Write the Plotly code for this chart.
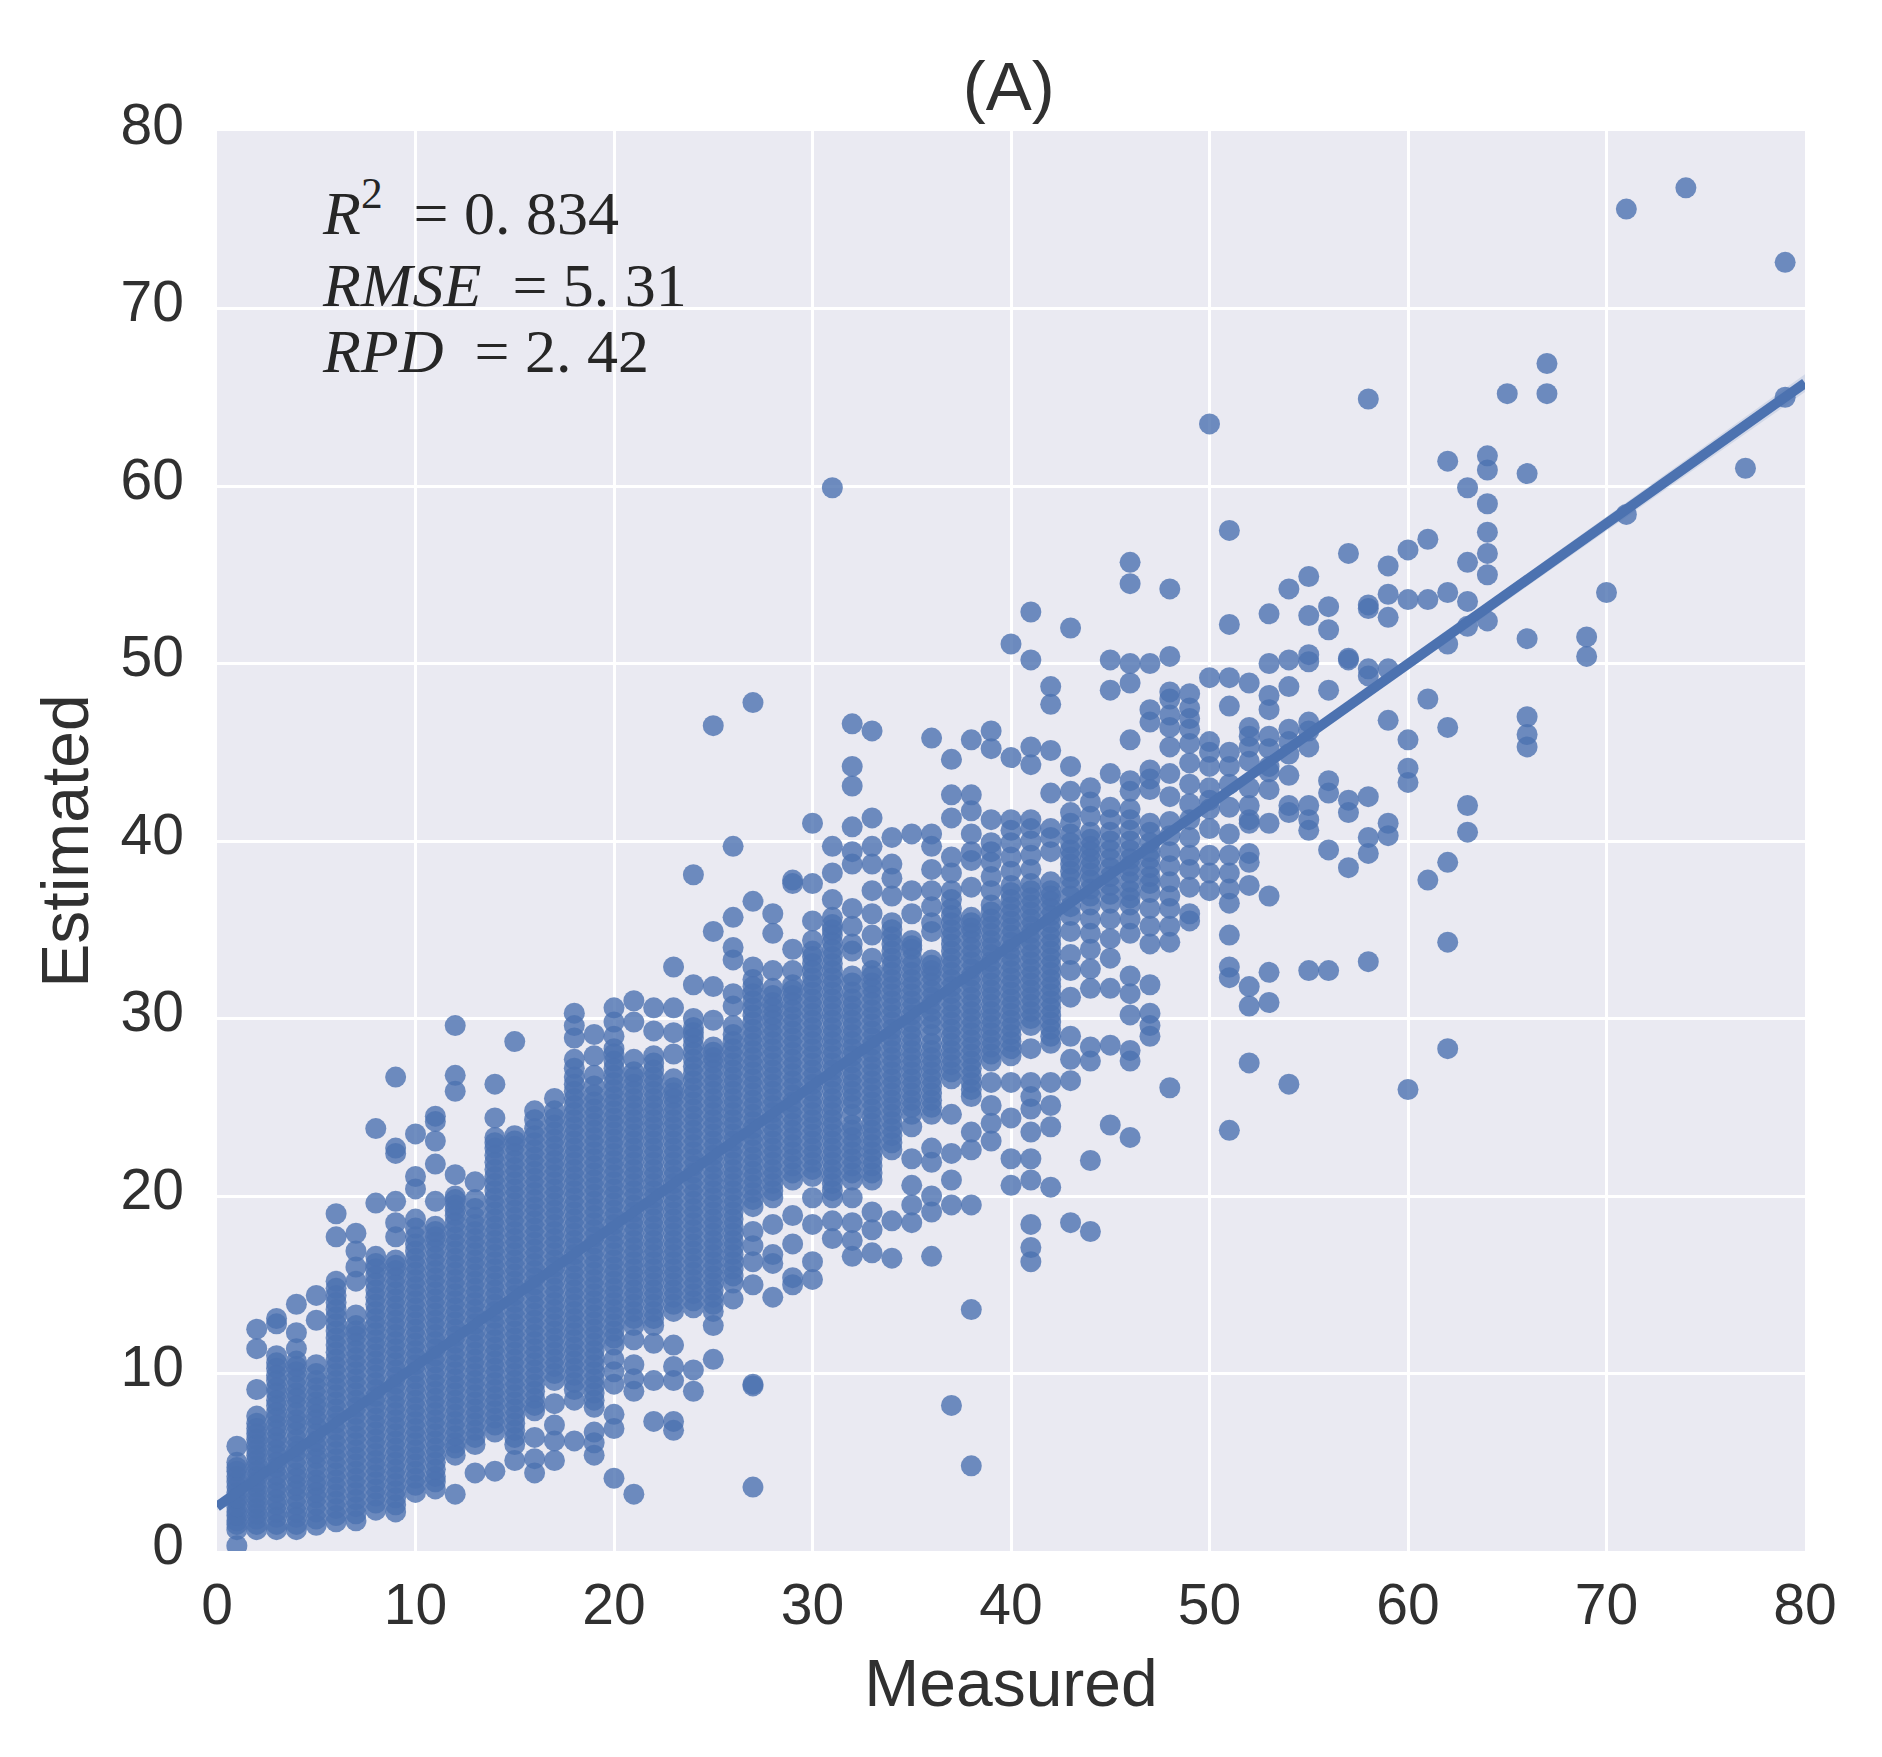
import plotly.graph_objects as go

# Estimated values, read column by column at each measured value
y01 = [0.3,1.2,1.7,2.2,2.8,3.3,3.9,4.5,5.0,5.9]
y02 = [1.2,1.8,2.4,3.0,3.6,4.2,4.8,5.4,6.0,6.6,7.2,7.6,9.1,11.4,12.5]
y03 = [1.2,1.9,2.6,3.3,4.0,4.7,5.4,6.1,6.8,7.5,8.2,8.9,9.6,10.3,11.0,12.8,13.1]
y04 = [1.2,1.9,2.6,3.4,4.1,4.8,5.6,6.3,7.1,7.8,8.6,9.3,10.1,10.7,11.4,12.3,13.9]
y05 = [1.45,2.2,3.0,3.7,4.4,5.2,5.9,6.6,7.4,8.1,8.8,9.6,10.5,13.0,14.4]
y06 = [1.65,2.4,3.2,4.0,4.8,5.6,6.4,7.2,8.0,8.8,9.6,10.4,11.2,12.0,12.8,13.6,14.4,15.2,17.7,19.0]
y07 = [1.7,2.5,3.3,4.1,4.9,5.7,6.5,7.3,8.1,8.9,9.7,10.5,11.3,12.1,12.7,13.3,15.2,16.0,16.9,17.9]
y08 = [2.3,3.1,3.9,4.7,5.5,6.3,7.1,7.9,8.7,9.5,10.3,11.1,11.9,12.7,13.5,14.3,15.1,15.9,16.6,19.6,23.8]
y09 = [2.2,3.0,3.8,4.6,5.4,6.2,7.0,7.8,8.6,9.4,10.2,11.0,11.8,12.6,13.4,14.2,15.0,15.8,16.4,17.7,18.5,19.7,22.4,22.7,26.7]
y10 = [3.3,4.1,4.9,5.7,6.5,7.3,8.1,8.9,9.7,10.5,11.3,12.1,12.9,13.7,14.5,15.3,16.1,16.9,17.7,18.7,20.4,21.1,23.5]
y11 = [3.5,4.2,5.0,5.8,6.6,7.4,8.2,9.0,9.8,10.6,11.4,12.2,13.0,13.8,14.6,15.4,16.2,17.0,17.7,18.3,19.7,21.8,23.1,24.2,24.5]
y12 = [3.2,5.4,6.1,6.9,7.7,8.5,9.3,10.1,10.9,11.7,12.5,13.3,14.1,14.9,15.7,16.5,17.3,18.1,18.9,19.5,20.0,21.2,25.9,26.8,29.6]
y13 = [4.4,6.0,6.8,7.6,8.4,9.2,10.0,10.8,11.6,12.4,13.2,14.0,14.8,15.6,16.4,17.2,18.0,18.8,19.8,20.8]
y14 = [4.5,6.7,7.5,8.3,9.1,9.9,10.7,11.5,12.3,13.1,13.9,14.7,15.5,16.3,17.1,17.9,18.7,19.5,20.3,21.1,21.9,22.7,23.3,24.4,26.3]
y15 = [5.1,6.0,6.8,7.6,8.4,9.2,10.0,10.8,11.6,12.4,13.2,14.0,14.8,15.6,16.4,17.2,18.0,18.8,19.6,20.4,21.2,22.0,22.8,23.4,28.7]
y16 = [4.4,5.2,6.4,7.9,8.6,9.4,10.2,11.0,11.8,12.6,13.4,14.2,15.0,15.8,16.6,17.4,18.2,19.0,19.8,20.6,21.4,22.2,23.0,23.8,24.8]
y17 = [5.1,6.2,7.1,8.3,9.6,10.4,11.2,12.0,12.8,13.6,14.4,15.2,16.0,16.8,17.6,18.4,19.2,20.0,20.8,21.6,22.4,23.2,24.0,24.8,25.5]
y18 = [6.2,8.5,9.1,9.9,10.7,11.5,12.3,13.1,13.9,14.7,15.5,16.3,17.1,17.9,18.7,19.5,20.3,21.1,21.9,22.7,23.5,24.3,25.1,25.9,26.7,27.7,28.9,29.6,30.3]
y19 = [5.4,6.1,6.7,8.1,8.9,9.7,10.5,11.3,12.1,12.9,13.7,14.5,15.3,16.1,16.9,17.7,18.5,19.3,20.1,20.9,21.7,22.5,23.3,24.1,24.9,25.7,26.8,27.9,29.1]
y20 = [4.1,6.9,7.7,9.4,10.1,10.8,11.6,12.4,13.2,14.0,14.8,15.6,16.4,17.2,18.0,18.8,19.6,20.4,21.2,22.0,22.8,23.6,24.4,25.2,26.0,26.8,27.6,28.3,29.0,29.8,30.6]
y21 = [3.2,9.0,9.7,10.5,11.9,12.7,13.5,14.3,15.1,15.9,16.7,17.5,18.3,19.1,19.9,20.7,21.5,22.3,23.1,23.9,24.7,25.5,26.3,27.0,27.7,29.8,31.0]
y22 = [7.3,9.6,11.7,12.7,13.5,14.3,15.1,15.9,16.7,17.5,18.3,19.1,19.9,20.7,21.5,22.3,23.1,23.9,24.7,25.5,26.3,27.1,27.9,29.3,30.6]
y23 = [6.8,7.3,9.6,10.4,11.6,13.5,14.3,15.1,15.9,16.7,17.5,18.3,19.1,19.9,20.7,21.5,22.3,23.1,23.9,24.7,25.5,26.1,26.6,28.0,29.2,30.6,32.9]
y24 = [9.0,10.2,13.7,14.5,15.3,16.1,16.9,17.7,18.5,19.3,20.1,20.9,21.7,22.5,23.3,24.1,24.9,25.7,26.5,27.3,28.1,28.9,29.5,30.0,31.9,38.1]
y25 = [10.8,12.7,13.5,14.3,15.1,15.9,16.7,17.5,18.3,19.1,19.9,20.7,21.5,22.3,23.1,23.9,24.7,25.5,26.3,27.1,27.8,28.4,29.9,31.8,34.9,46.5]
y26 = [14.2,15.1,15.9,16.7,17.5,18.3,19.1,19.9,20.7,21.5,22.3,23.1,23.9,24.7,25.5,26.3,27.1,27.9,28.7,29.6,30.7,31.4,33.3,34.0,35.7,39.7]
y27 = [3.6,9.3,9.4,15.0,16.3,17.2,18.0,19.4,20.2,21.0,21.8,22.6,23.4,24.2,25.0,25.8,26.6,27.4,28.2,29.0,29.8,30.6,31.4,32.2,32.9,36.6,47.8]
y28 = [14.3,16.2,16.7,18.4,19.9,20.7,21.5,22.3,23.1,23.9,24.7,25.5,26.3,27.1,27.9,28.7,29.5,30.2,30.9,31.7,32.7,34.8,35.9]
y29 = [15.0,15.4,17.3,18.9,20.9,21.7,22.5,23.3,24.1,24.9,25.7,26.5,27.3,28.1,28.9,29.7,30.5,31.3,31.9,32.7,33.9,37.6,37.8]
y30 = [15.3,16.3,18.4,19.9,21.1,21.9,22.7,23.5,24.3,25.1,25.9,26.7,27.5,28.3,29.1,29.9,30.7,31.5,32.3,33.1,33.8,34.4,35.5,37.6,41.0]
y31 = [17.6,18.6,19.9,20.7,21.5,22.3,23.1,23.9,24.7,25.5,26.3,27.1,27.9,28.7,29.5,30.3,31.1,31.9,32.7,33.5,34.3,35.0,35.7,36.7,38.2,39.7,59.9]
y32 = [16.6,17.5,18.5,19.9,20.9,21.7,22.5,23.3,24.0,24.6,25.1,25.9,26.7,27.5,28.3,29.1,29.9,30.7,31.5,32.4,33.8,34.2,35.2,36.2,38.7,39.4,40.8,43.1,44.2,46.6]
y33 = [16.8,18.1,19.1,20.9,21.7,22.5,23.3,24.1,24.9,25.7,26.5,27.3,28.1,28.9,29.7,30.5,31.3,32.0,32.7,33.4,34.7,35.9,37.2,38.7,39.7,41.3,46.2]
y34 = [16.5,18.6,22.6,23.4,24.2,25.0,25.8,26.6,27.4,28.2,29.0,29.8,30.6,31.4,32.2,33.0,33.8,34.6,35.4,36.9,37.9,38.7,40.2]
y35 = [18.5,19.5,20.6,22.1,23.9,24.6,25.4,26.2,27.0,27.8,28.6,29.4,30.2,31.0,31.8,32.6,33.4,33.9,34.4,35.9,37.2,40.4]
y36 = [16.6,19.1,20.0,21.9,22.7,24.6,25.4,26.2,27.0,27.8,28.6,29.6,30.4,31.2,32.0,32.7,33.3,34.9,35.4,36.3,37.2,38.4,39.7,40.4,45.8]
y37 = [8.2,19.5,20.9,22.4,24.6,26.6,27.4,28.2,29.0,29.8,30.6,31.4,32.2,33.0,33.8,34.6,35.4,36.2,37.2,38.2,39.1,41.3,42.6,44.6]
y38 = [4.8,13.6,19.5,22.6,23.6,25.6,26.4,27.2,28.0,28.8,29.6,30.4,31.2,32.0,32.8,33.6,34.4,35.1,35.7,37.4,38.9,39.4,40.4,41.7,42.6,45.7]
y39 = [23.1,24.1,25.1,26.4,27.6,28.4,29.2,30.0,30.8,31.6,32.4,33.2,34.0,34.8,35.6,36.4,37.2,38.0,38.8,39.4,39.9,41.2,45.2,46.2]
y40 = [20.6,22.1,24.4,26.4,27.9,28.7,29.5,30.3,31.1,31.9,32.7,33.5,34.3,35.1,35.9,36.7,37.5,38.3,39.1,39.9,40.6,41.2,44.7,51.1]
y41 = [16.3,17.1,18.4,20.9,22.1,23.6,24.9,25.6,26.4,28.3,29.6,30.4,31.2,32.0,32.8,33.6,34.4,35.2,36.0,36.8,37.6,38.4,39.2,40.0,40.7,41.2,44.3,45.3,50.2,52.9]
y42 = [20.5,23.9,25.1,26.4,28.6,29.4,30.2,31.0,31.8,32.6,33.4,34.2,35.0,35.8,36.6,37.2,37.7,39.4,40.2,40.7,42.7,45.1,47.7,48.7]
y43 = [18.5,26.5,27.7,29.0,31.2,32.7,34.9,35.8,36.9,37.9,38.7,39.5,40.4,41.6,42.8,44.2,52.0]
y44 = [18.0,22.0,27.6,28.4,31.7,32.8,33.9,36.4,37.3,38.2,39.0,39.7,40.5,41.4,42.2,43.0]
y45 = [24.0,28.5,31.7,33.4,34.5,36.5,37.5,38.5,39.5,40.5,41.9,43.8,48.5,50.2]
y46 = [23.3,27.6,28.2,30.2,31.4,32.4,34.8,36.4,37.2,38.2,39.0,40.0,41.2,41.8,42.8,43.4,45.7,48.9,50.0,54.5,55.7]
y47 = [29.0,29.6,30.3,31.9,34.2,36.2,37.6,38.5,39.4,40.5,41.0,42.9,43.5,44.0,46.7,47.4,50.0]
y48 = [26.1,34.3,35.2,36.2,36.9,37.7,38.6,39.4,40.3,41.1,42.5,43.8,45.3,46.4,47.1,48.0,48.4,50.4,54.2]
y49 = [35.5,35.9,37.4,38.4,39.2,40.2,41.2,42.1,43.2,44.4,45.5,46.3,46.9,47.5,48.3]
y50 = [37.2,38.2,39.2,40.7,41.8,42.3,43.0,44.2,45.0,45.6,49.2,63.5]
y51 = [23.7,32.3,32.9,34.7,36.5,37.3,38.2,39.2,40.4,41.9,43.2,44.2,45.0,47.6,49.2,52.2,57.5]
y52 = [27.5,30.7,31.8,37.5,38.8,39.3,41.0,41.2,42.0,43.0,44.5,45.3,45.9,46.4,48.9]
y53 = [30.9,32.6,36.9,41.0,42.9,43.9,44.2,45.2,45.9,47.4,48.2,50.0,52.8]
y54 = [26.3,41.6,42.0,43.7,44.9,45.6,46.3,48.7,50.2,54.2]
y55 = [32.7,40.6,41.2,42.0,45.3,46.2,46.7,50.1,50.5,52.7,54.9]
y56 = [32.7,39.5,42.7,43.4,48.5,51.9,53.2]
y57 = [38.5,41.6,42.3,50.2,50.3,56.2]
y58 = [33.2,39.3,40.2,42.5,49.3,49.7,53.1,53.3,64.9]
y59 = [40.3,41.0,46.8,49.7,52.6,53.9,55.5]
y60 = [26.0,43.3,44.1,45.7,53.6,56.4]
y61 = [37.8,48.0,53.6,57.0]
y62 = [28.3,34.3,38.8,46.4,51.1,54.0,61.4]
y63 = [40.5,42.0,52.1,53.5,55.7,59.9]
y64 = [52.4,55.0,56.2,57.4,59.0,60.9,61.7]
y65 = [65.2]
y66 = [45.3,46.0,47.0,51.4,60.7]
y67 = [65.2,66.9]
y69 = [50.4,51.5]
y70 = [54.0]
y71 = [58.4,75.6]
y74 = [76.8]
y77 = [61.0]
y79 = [65.0,72.6]

# Further estimates inside the solid part of each crowded column
d01 = [1.5,2.0,2.5,3.0,3.6,4.2,4.7]
d02 = [1.5,2.1,2.7,3.3,3.9,4.5,5.1,5.7,6.3,6.9]
d03 = [1.5,2.2,2.9,3.6,4.3,5.0,5.7,6.4,7.1,7.8,8.5,9.2,9.9,10.6]
d04 = [1.5,2.2,3.0,3.7,4.4,5.2,5.9,6.7,7.4,8.2,8.9,9.7,10.4]
d05 = [1.8,2.6,3.3,4.0,4.8,5.5,6.2,7.0,7.7,8.4,9.2,10.0]
d06 = [2.0,2.8,3.6,4.4,5.2,6.0,6.8,7.6,8.4,9.2,10.0,10.8,11.6,12.4,13.2,14.0,14.8]
d07 = [2.1,2.9,3.7,4.5,5.3,6.1,6.9,7.7,8.5,9.3,10.1,10.9,11.7,12.4]
d08 = [2.7,3.5,4.3,5.1,5.9,6.7,7.5,8.3,9.1,9.9,10.7,11.5,12.3,13.1,13.9,14.7,15.5,16.2]
d09 = [2.6,3.4,4.2,5.0,5.8,6.6,7.4,8.2,9.0,9.8,10.6,11.4,12.2,13.0,13.8,14.6,15.4,16.1]
d10 = [3.7,4.5,5.3,6.1,6.9,7.7,8.5,9.3,10.1,10.9,11.7,12.5,13.3,14.1,14.9,15.7,16.5,17.3,18.2]
d11 = [3.9,4.6,5.4,6.2,7.0,7.8,8.6,9.4,10.2,11.0,11.8,12.6,13.4,14.2,15.0,15.8,16.6,17.4,18.0]
d12 = [5.8,6.5,7.3,8.1,8.9,9.7,10.5,11.3,12.1,12.9,13.7,14.5,15.3,16.1,16.9,17.7,18.5,19.2,19.8]
d13 = [6.4,7.2,8.0,8.8,9.6,10.4,11.2,12.0,12.8,13.6,14.4,15.2,16.0,16.8,17.6,18.4,19.3]
d14 = [7.1,7.9,8.7,9.5,10.3,11.1,11.9,12.7,13.5,14.3,15.1,15.9,16.7,17.5,18.3,19.1,19.9,20.7,21.5,22.3,23.0]
d15 = [6.4,7.2,8.0,8.8,9.6,10.4,11.2,12.0,12.8,13.6,14.4,15.2,16.0,16.8,17.6,18.4,19.2,20.0,20.8,21.6,22.4,23.1]
d16 = [8.2,9.0,9.8,10.6,11.4,12.2,13.0,13.8,14.6,15.4,16.2,17.0,17.8,18.6,19.4,20.2,21.0,21.8,22.6,23.4,24.3]
d17 = [10.0,10.8,11.6,12.4,13.2,14.0,14.8,15.6,16.4,17.2,18.0,18.8,19.6,20.4,21.2,22.0,22.8,23.6,24.4]
d18 = [9.5,10.3,11.1,11.9,12.7,13.5,14.3,15.1,15.9,16.7,17.5,18.3,19.1,19.9,20.7,21.5,22.3,23.1,23.9,24.7,25.5,26.3,27.2]
d19 = [8.5,9.3,10.1,10.9,11.7,12.5,13.3,14.1,14.9,15.7,16.5,17.3,18.1,18.9,19.7,20.5,21.3,22.1,22.9,23.7,24.5,25.3,26.2]
d20 = [12.0,12.8,13.6,14.4,15.2,16.0,16.8,17.6,18.4,19.2,20.0,20.8,21.6,22.4,23.2,24.0,24.8,25.6,26.4,27.2,28.0]
d21 = [13.1,13.9,14.7,15.5,16.3,17.1,17.9,18.7,19.5,20.3,21.1,21.9,22.7,23.5,24.3,25.1,25.9,26.7]
d22 = [13.1,13.9,14.7,15.5,16.3,17.1,17.9,18.7,19.5,20.3,21.1,21.9,22.7,23.5,24.3,25.1,25.9,26.7,27.5]
d23 = [13.9,14.7,15.5,16.3,17.1,17.9,18.7,19.5,20.3,21.1,21.9,22.7,23.5,24.3,25.1,25.8]
d24 = [14.1,14.9,15.7,16.5,17.3,18.1,18.9,19.7,20.5,21.3,22.1,22.9,23.7,24.5,25.3,26.1,26.9,27.7,28.5,29.2]
d25 = [13.9,14.7,15.5,16.3,17.1,17.9,18.7,19.5,20.3,21.1,21.9,22.7,23.5,24.3,25.1,25.9,26.7,27.5,28.1]
d26 = [15.5,16.3,17.1,17.9,18.7,19.5,20.3,21.1,21.9,22.7,23.5,24.3,25.1,25.9,26.7,27.5,28.3,29.1]
d27 = [19.8,20.6,21.4,22.2,23.0,23.8,24.6,25.4,26.2,27.0,27.8,28.6,29.4,30.2,31.0,31.8]
d28 = [20.3,21.1,21.9,22.7,23.5,24.3,25.1,25.9,26.7,27.5,28.3,29.1,29.9,30.6,31.3]
d29 = [21.3,22.1,22.9,23.7,24.5,25.3,26.1,26.9,27.7,28.5,29.3,30.1,30.9,31.6]
d30 = [21.5,22.3,23.1,23.9,24.7,25.5,26.3,27.1,27.9,28.7,29.5,30.3,31.1,31.9,32.7,33.5]
d31 = [20.3,21.1,21.9,22.7,23.5,24.3,25.1,25.9,26.7,27.5,28.3,29.1,29.9,30.7,31.5,32.3,33.1,33.9,34.7,35.3]
d32 = [21.3,22.1,22.9,23.7,25.5,26.3,27.1,27.9,28.7,29.5,30.3,31.1,32.0]
d33 = [21.3,22.1,22.9,23.7,24.5,25.3,26.1,26.9,27.7,28.5,29.3,30.1,30.9,31.7,32.4]
d34 = [23.0,23.8,24.6,25.4,26.2,27.0,27.8,28.6,29.4,30.2,31.0,31.8,32.6,33.4,34.2,35.0]
d35 = [25.0,25.8,26.6,27.4,28.2,29.0,29.8,30.6,31.4,32.2,33.0,34.1]
d36 = [25.0,25.8,26.6,27.4,28.2,29.1,30.0,30.8,31.6,32.4,33.0]
d37 = [27.0,27.8,28.6,29.4,30.2,31.0,31.8,32.6,33.4,34.2,35.0,35.8,36.7]
d38 = [26.0,26.8,27.6,28.4,29.2,30.0,30.8,31.6,32.4,33.2,34.0,34.8,35.4]
d39 = [28.0,28.8,29.6,30.4,31.2,32.0,32.8,33.6,34.4,35.2,36.0]
d40 = [28.3,29.1,29.9,30.7,31.5,32.3,33.1,33.9,34.7,35.5,36.3,37.1]
d41 = [30.0,30.8,31.6,32.4,33.2,34.0,34.8,35.6,36.4,37.2]
d42 = [29.0,29.8,30.6,31.4,32.2,33.0,33.8,34.6,35.4,36.2,36.9]
d43 = [33.6,36.3,37.4,38.3,39.1,39.9,41.0]
d44 = [34.8,35.6,36.9,37.8,38.6,39.4,40.1]
d45 = [35.6,37.0,38.0,39.0,40.0,41.2]
d46 = [35.6,36.8,37.7,38.6,39.5,40.6]
d47 = [35.2,37.1,38.0,39.0,39.9]

measured_values = list(range(1, 68)) + [69, 70, 71, 74, 77, 79]
estimated_columns = [
    y01,y02,y03,y04,y05,y06,y07,y08,y09,y10,y11,y12,y13,y14,y15,y16,y17,y18,y19,y20,
    y21,y22,y23,y24,y25,y26,y27,y28,y29,y30,y31,y32,y33,y34,y35,y36,y37,y38,y39,y40,
    y41,y42,y43,y44,y45,y46,y47,y48,y49,y50,y51,y52,y53,y54,y55,y56,y57,y58,y59,y60,
    y61,y62,y63,y64,y65,y66,y67,y69,y70,y71,y74,y77,y79,
]
crowded_columns = [
    d01,d02,d03,d04,d05,d06,d07,d08,d09,d10,d11,d12,d13,d14,d15,d16,d17,d18,d19,d20,d21,
    d22,d23,d24,d25,d26,d27,d28,d29,d30,d31,d32,d33,d34,d35,d36,d37,d38,d39,d40,d41,d42,
    d43,d44,d45,d46,d47,
]

fit_x = [0, 40, 80]
fit_y = [2.5, 34.1, 65.8]
fit_upper = [2.7, 34.2, 66.3]
fit_lower = [2.3, 34.0, 65.3]

tick_values = [0, 10, 20, 30, 40, 50, 60, 70, 80]
stats_lines = ["<i>R</i><sup>2</sup>\u2002= 0. 834", "<i>RMSE</i>\u2002= 5. 31", "<i>RPD</i>\u2002= 2. 42"]
stats_y = [75.65, 71.3, 67.6]

xs, ys = [], []
for m, col in zip(measured_values, estimated_columns):
    xs += [m] * len(col)
    ys += col
for m, col in zip(measured_values, crowded_columns):
    xs += [m] * len(col)
    ys += col

fig = go.Figure()
fig.add_trace(go.Scatter(x=xs, y=ys, mode="markers",
                         marker=dict(color="#4C72B0", size=21, opacity=0.8, line=dict(width=0)),
                         showlegend=False))
fig.add_trace(go.Scatter(x=fit_x + fit_x[::-1], y=fit_upper + fit_lower[::-1], mode="lines",
                         fill="toself", fillcolor="rgba(76,114,176,0.15)",
                         line=dict(width=0), showlegend=False))
fig.add_trace(go.Scatter(x=fit_x, y=fit_y, mode="lines",
                         line=dict(color="#4C72B0", width=10), showlegend=False))

axis = dict(tickvals=tick_values, showgrid=True, gridcolor="white", gridwidth=3,
            zeroline=False, showline=False, ticks="", tickfont=dict(family="Liberation Sans", size=57, color="#303030"))
fig.update_xaxes(**axis, range=[0, 80],
                 title=dict(text="Measured", font=dict(family="Liberation Sans", size=66, color="#303030"), standoff=24),
                 ticklabelstandoff=15)
fig.update_yaxes(**axis, range=[0, 80],
                 title=dict(text="Estimated", font=dict(family="Liberation Sans", size=66, color="#303030"), standoff=10),
                 ticklabelstandoff=32, ticklabelshift=-7)

for text, yv in zip(stats_lines, stats_y):
    fig.add_annotation(x=5.2, y=yv, xref="x", yref="y", text=text, showarrow=False, xanchor="left", yanchor="middle",
                       font=dict(family="Liberation Serif", size=62, color="#262626"))

fig.update_layout(
    width=1882, height=1757, autosize=False,
    margin=dict(l=217, r=77, t=131, b=206, autoexpand=False),
    paper_bgcolor="white", plot_bgcolor="#EAEAF2",
    title=dict(text="(A)", x=0.536, xanchor="center", y=0.951, yanchor="middle",
               font=dict(family="Liberation Sans", size=69, color="#303030")),
)

fig.write_html("out.html", config={"displayModeBar": False}, post_script="document.body.style.margin='0';")
